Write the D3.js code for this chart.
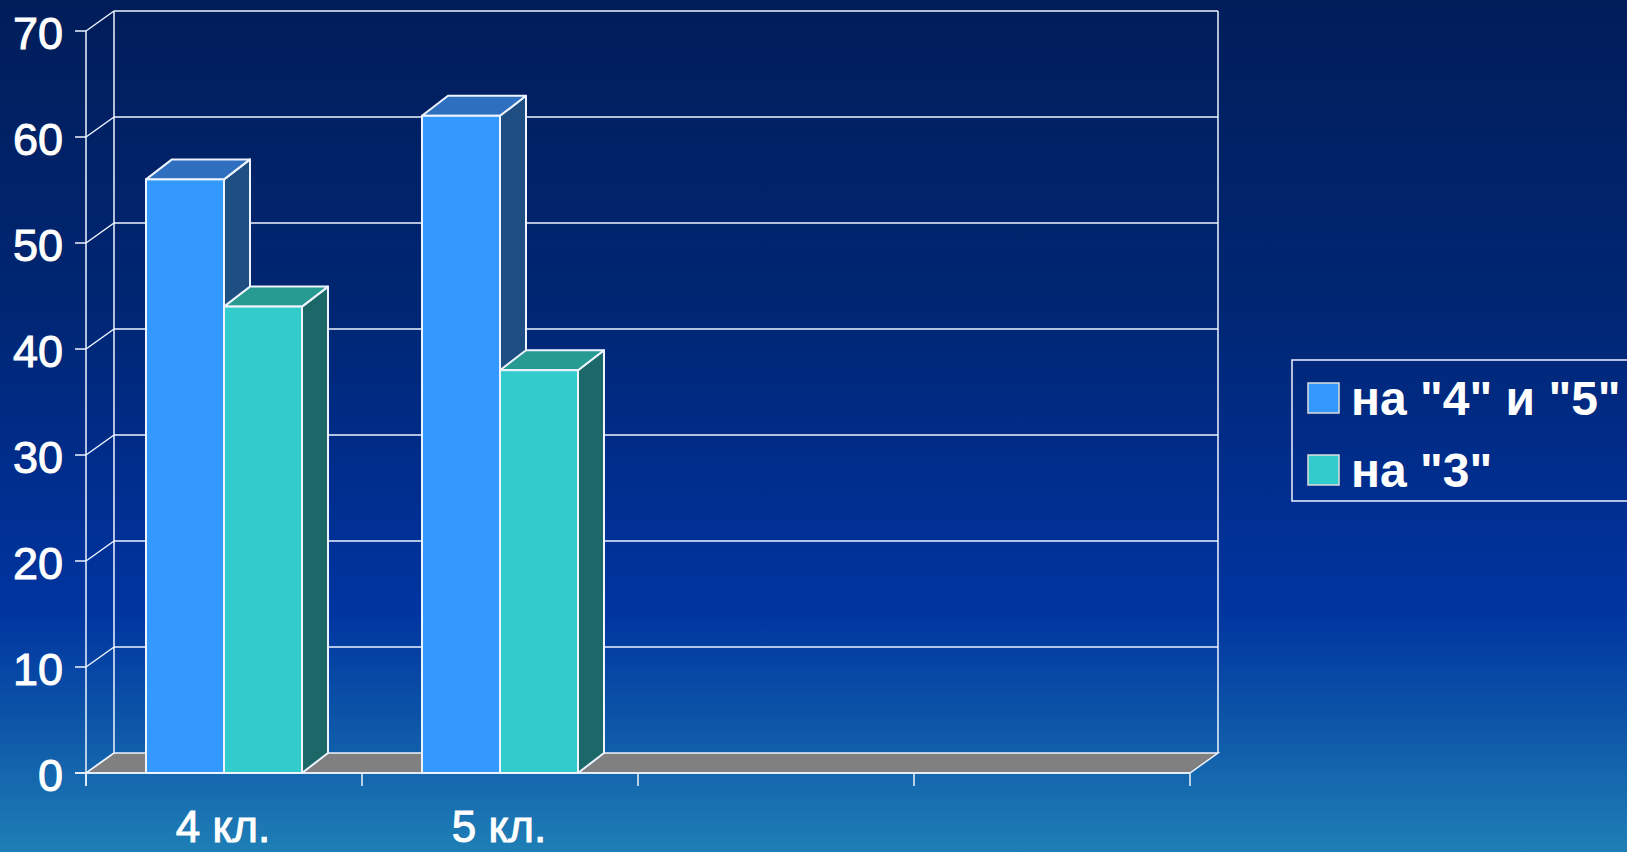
<!DOCTYPE html>
<html>
<head>
<meta charset="utf-8">
<script src="https://cdn.jsdelivr.net/npm/d3@7/dist/d3.min.js"></script>
<style>
  html, body { margin: 0; padding: 0; overflow: hidden; }
  body { width: 1627px; height: 852px; }
  svg { display: block; }
</style>
</head>
<body>
<svg id="chart" width="1627" height="852"></svg>
<script>
// ---- data ----
const categories = ["4 кл.", "5 кл.", "", ""];
const seriesNames = ["на \"4\" и \"5\"", "на \"3\""];
const series1 = [56, 62, null, null];
const series2 = [44, 38, null, null];
const yTicks = [0, 10, 20, 30, 40, 50, 60, 70];

// ---- styles ----
const colors = [
  { front: "#3399ff", top: "#2e6fc0", side: "#1f4e82" },
  { front: "#33cccc", top: "#279a92", side: "#1c6868" }
];
const lineCol = "#eef4ff";

const svg = d3.select("#chart");
const W = 1627, H = 852;

// background gradient
const defs = svg.append("defs");
const grad = defs.append("linearGradient").attr("id", "bg")
  .attr("x1", 0).attr("y1", 0).attr("x2", 0).attr("y2", 1);
[[0, "#011d5a"], [0.35, "#002672"], [0.6, "#002f92"], [0.72, "#0035a0"], [0.85, "#0d56a8"], [1, "#1f7fb6"]]
  .forEach(([o, c]) => grad.append("stop").attr("offset", o).attr("stop-color", c));
svg.append("rect").attr("width", W).attr("height", H).attr("fill", "url(#bg)");

// geometry
const left = 86, right = 1190, y0 = 773;
const dx = 28, dy = -20;       // wall depth
const bdx = 26, bdy = -20;     // bar depth

const x = d3.scaleBand().domain(d3.range(categories.length)).range([left, right]).paddingInner(0).paddingOuter(0);
const y = d3.scaleLinear().domain([0, 70]).range([y0, y0 - 742]);
const clusterW = 156;
const xs = d3.scaleBand().domain([0, 1]).range([0, clusterW]);

const g = svg.append("g");

// floor
const floorPts = [[left, y(0)], [left + dx, y(0) + dy], [right + dx, y(0) + dy], [right, y(0)]];
g.append("polygon").attr("points", floorPts.map(p => p.join(",")).join(" "))
  .attr("fill", "#808080").attr("stroke", lineCol).attr("stroke-width", 1.5);

// back wall grid lines
g.selectAll(".grid").data(yTicks.filter(t => t > 0)).join("line")
  .attr("x1", left + dx).attr("x2", right + dx + 0)
  .attr("y1", d => y(d) + dy).attr("y2", d => y(d) + dy)
  .attr("stroke", lineCol).attr("stroke-width", 1.5);
// left wall diagonals
g.selectAll(".diag").data(yTicks).join("line")
  .attr("x1", left).attr("y1", d => y(d))
  .attr("x2", left + dx).attr("y2", d => y(d) + dy)
  .attr("stroke", lineCol).attr("stroke-width", 1.5);
// back wall verticals
[left + dx, right + dx].forEach(xx => {
  g.append("line").attr("x1", xx).attr("x2", xx)
    .attr("y1", y(70) + dy).attr("y2", y(0) + dy)
    .attr("stroke", lineCol).attr("stroke-width", 1.5);
});

// front y axis
g.append("line").attr("x1", left).attr("x2", left).attr("y1", y(70)).attr("y2", y(0) + 13)
  .attr("stroke", lineCol).attr("stroke-width", 1.5);
g.selectAll(".ytick").data(yTicks).join("line")
  .attr("x1", left - 11).attr("x2", left).attr("y1", d => y(d)).attr("y2", d => y(d))
  .attr("stroke", lineCol).attr("stroke-width", 1.5);
g.selectAll(".ylab").data(yTicks).join("text")
  .attr("x", 63).attr("y", d => y(d) + 18)
  .attr("text-anchor", "end")
  .attr("font-family", "Liberation Sans, Arial, sans-serif")
  .attr("font-size", 45).attr("fill", "#ffffff")
  .attr("stroke", "#ffffff").attr("stroke-width", 1)
  .text(d => d);

// x axis ticks
const xTickPos = d3.range(categories.length + 1).map(i => i < categories.length ? x(i) : x(categories.length - 1) + x.bandwidth());
g.selectAll(".xtick").data(xTickPos).join("line")
  .attr("x1", d => d).attr("x2", d => d).attr("y1", y(0)).attr("y2", y(0) + 13)
  .attr("stroke", lineCol).attr("stroke-width", 1.5);
g.append("line").attr("x1", left - 11).attr("x2", right).attr("y1", y(0)).attr("y2", y(0))
  .attr("stroke", lineCol).attr("stroke-width", 1.5);
g.selectAll(".xlab").data(categories).join("text")
  .attr("x", (d, i) => x(i) + x.bandwidth() / 2 - 1).attr("y", 842)
  .attr("text-anchor", "middle")
  .attr("font-family", "Liberation Sans, Arial, sans-serif")
  .attr("font-size", 44).attr("fill", "#ffffff")
  .attr("stroke", "#ffffff").attr("stroke-width", 1)
  .text(d => d);

// bars (3D)
const allSeries = [series1, series2];
const bars = [];
categories.forEach((c, i) => {
  allSeries.forEach((s, k) => {
    if (s[i] == null) return;
    bars.push({ i, k, v: s[i] });
  });
});
bars.sort((a, b) => (a.i - b.i) || (a.k - b.k));
const barG = svg.append("g");
bars.forEach(b => {
  const x0 = x(b.i) + (x.bandwidth() - clusterW) / 2 + xs(b.k);
  const x1 = x0 + xs.bandwidth();
  const yt = y(b.v), yb = y(0);
  const col = colors[b.k];
  const bg = barG.append("g");
  const sw = 2;
  bg.append("polygon").attr("points", [[x1, yt], [x1 + bdx, yt + bdy], [x1 + bdx, yb + bdy], [x1, yb]].map(p => p.join(",")).join(" "))
    .attr("fill", col.side).attr("stroke", lineCol).attr("stroke-width", sw).attr("stroke-linejoin", "round");
  bg.append("polygon").attr("points", [[x0, yt], [x0 + bdx, yt + bdy], [x1 + bdx, yt + bdy], [x1, yt]].map(p => p.join(",")).join(" "))
    .attr("fill", col.top).attr("stroke", lineCol).attr("stroke-width", sw).attr("stroke-linejoin", "round");
  bg.append("rect").attr("x", x0).attr("y", yt).attr("width", x1 - x0).attr("height", yb - yt)
    .attr("fill", col.front).attr("stroke", lineCol).attr("stroke-width", sw);
});

// legend
const lg = svg.append("g");
lg.append("rect").attr("x", 1292).attr("y", 360).attr("width", 400).attr("height", 141)
  .attr("fill", "none").attr("stroke", lineCol).attr("stroke-width", 1.5);
seriesNames.forEach((name, k) => {
  const yy = 383 + k * 72;
  lg.append("rect").attr("x", 1308).attr("y", yy).attr("width", 31).attr("height", 30)
    .attr("fill", colors[k].front).attr("stroke", "#dddddd").attr("stroke-width", 1.5);
  lg.append("text").attr("x", 1351).attr("y", yy + 32)
    .attr("font-family", "Liberation Sans, Arial, sans-serif")
    .attr("font-size", 48).attr("font-weight", "bold").attr("fill", "#ffffff")
    .text(name);
});
</script>
</body>
</html>
